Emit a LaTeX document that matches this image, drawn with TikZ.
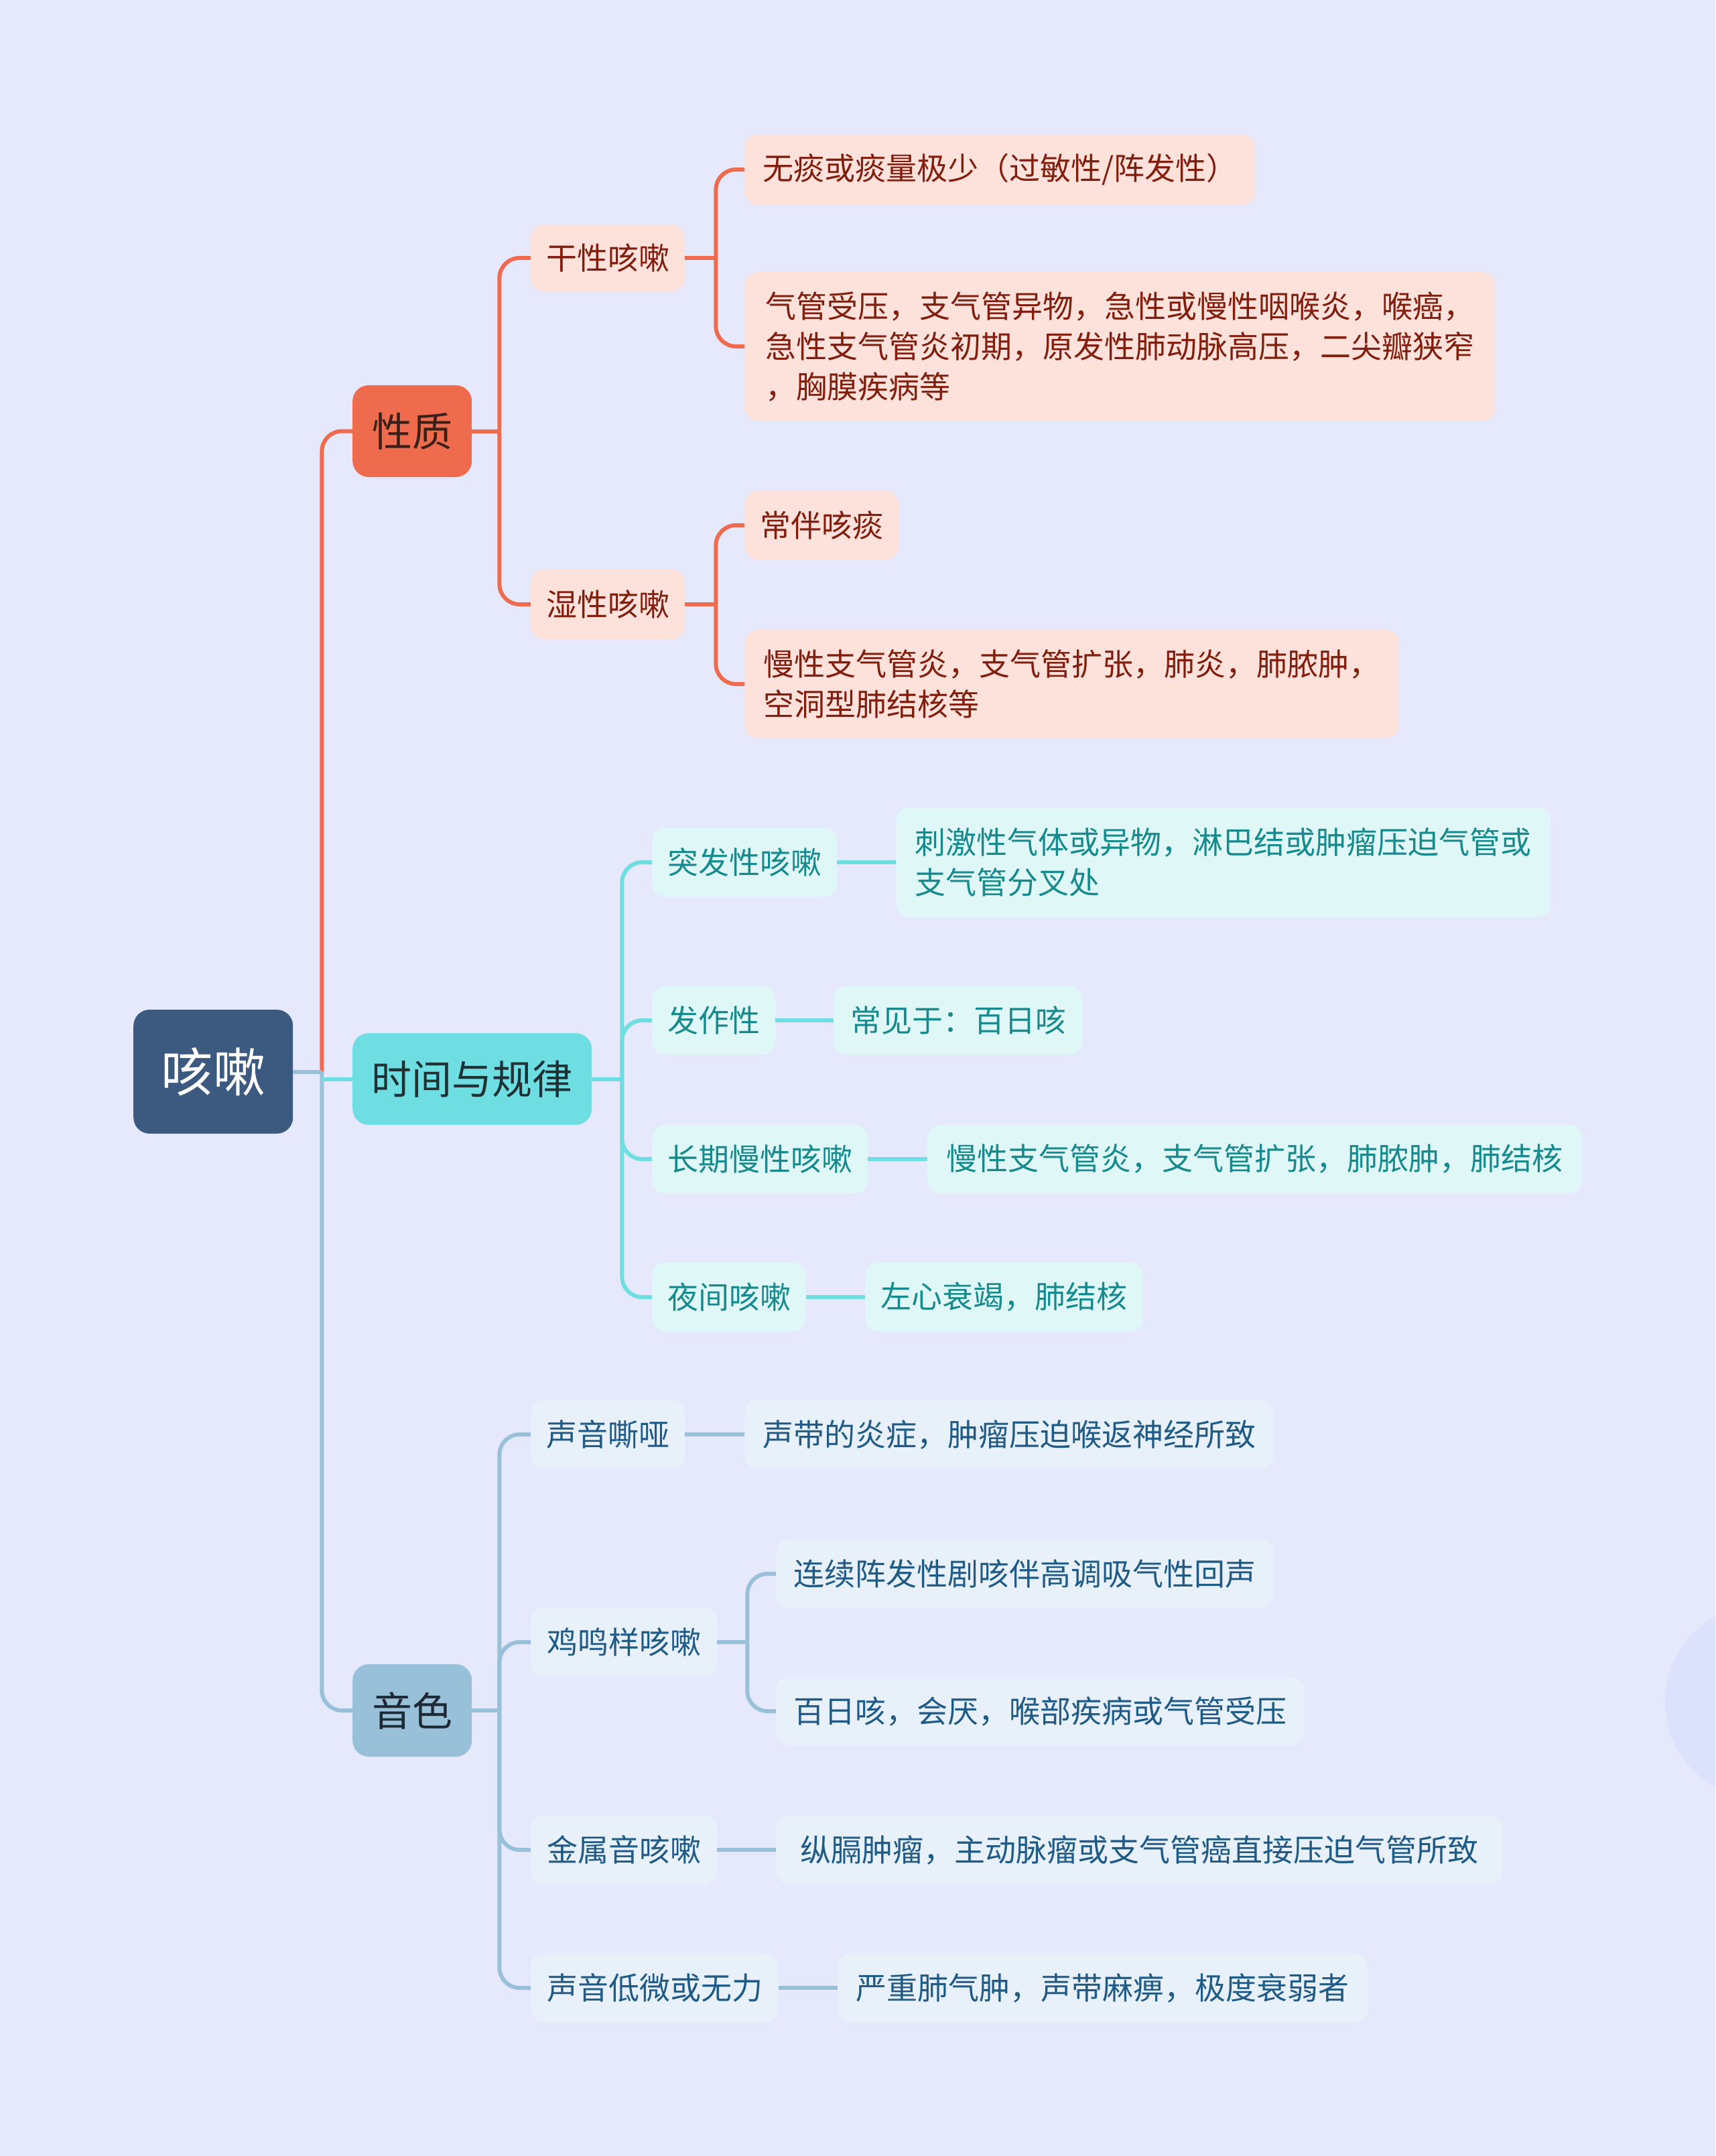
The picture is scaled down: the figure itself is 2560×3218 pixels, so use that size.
\documentclass[tikz,border=0pt]{standalone}
\usepackage{fontspec}
\newfontfamily\cjk{Noto Sans CJK SC}
\usetikzlibrary{calc}
\definecolor{bgc}{HTML}{E6E9FC}
\definecolor{circc}{HTML}{DCE1FC}
\definecolor{rootc}{HTML}{3C5A80}
\definecolor{oc}{HTML}{EE6C4D}
\definecolor{ofill}{HTML}{FDE2DC}
\definecolor{otext}{HTML}{821E0E}
\definecolor{otop}{HTML}{3A2019}
\definecolor{cc}{HTML}{6FDEE2}
\definecolor{cfill}{HTML}{E0F7F8}
\definecolor{ctext}{HTML}{168A8C}
\definecolor{ctop}{HTML}{1E3236}
\definecolor{bc}{HTML}{98C1D9}
\definecolor{bfill}{HTML}{E8F1FA}
\definecolor{btext}{HTML}{205B86}
\definecolor{btop}{HTML}{1D2A36}
\tikzset{
  nd/.style={anchor=west, rounded corners=20pt, inner xsep=23pt, inner ysep=0pt,
    align=left, minimum height=103pt, font=\cjk\fontsize{46}{60}\selectfont},
  top/.style={anchor=west, rounded corners=24pt, inner xsep=28pt, inner ysep=0pt,
    minimum height=137pt, font=\cjk\fontsize{60}{72}\selectfont},
  onode/.style={nd, fill=ofill, text=otext},
  cnode/.style={nd, fill=cfill, text=ctext},
  bnode/.style={nd, fill=bfill, text=btext},
  oline/.style={draw=oc, line width=6pt, rounded corners=30pt},
  cline/.style={draw=cc, line width=6pt, rounded corners=30pt},
  bline/.style={draw=bc, line width=6pt, rounded corners=30pt},
}
\begin{document}
\begin{tikzpicture}[x=1pt,y=-1pt]
\useasboundingbox (0,0) rectangle (2560,3218);
\clip (0,0) rectangle (2560,3218);
\fill[bgc] (0,0) rectangle (2560,3218);
\fill[circc] (2630,2540) circle (145pt);

% root
\node[anchor=west, fill=rootc, text=white, rounded corners=24pt, minimum width=238pt,
  minimum height=185pt, inner sep=0pt, font=\cjk\fontsize{78}{90}\selectfont] (root) at (199,1599.5) {咳嗽};

% level 1
\node[top, fill=oc, text=otop, minimum width=178pt] (xz) at (526,643.5) {性质};
\node[top, fill=cc, text=ctop, minimum width=357pt] (sj) at (526,1610.5) {时间与规律};
\node[top, fill=bc, text=btop, minimum width=178pt, minimum height=138pt] (ys) at (526,2553) {音色};

% 性质 branch
\node[onode, minimum width=230pt, minimum height=100pt] (gx) at (792,385) {干性咳嗽};
\node[onode, minimum width=230pt, minimum height=105pt] (sx) at (792,902) {湿性咳嗽};
\node[onode, minimum width=763pt, minimum height=105pt] (g1) at (1111,253) {无痰或痰量极少（过敏性/阵发性）};
\node[onode, minimum width=1121pt, minimum height=222pt] (g2) at (1111,517)
  {气管受压，支气管异物，急性或慢性咽喉炎，喉癌，\\急性支气管炎初期，原发性肺动脉高压，二尖瓣狭窄\\，胸膜疾病等};
\node[onode, minimum width=230pt] (s1) at (1111,784) {常伴咳痰};
\node[onode, minimum width=977pt, minimum height=162pt] (s2) at (1111,1021)
  {慢性支气管炎，支气管扩张，肺炎，肺脓肿，\\空洞型肺结核等};

% 时间与规律 branch
\node[cnode, minimum width=275pt] (t1) at (973,1287) {突发性咳嗽};
\node[cnode, minimum width=977pt, minimum height=164pt] (t1a) at (1337,1287)
  {刺激性气体或异物，淋巴结或肿瘤压迫气管或\\支气管分叉处};
\node[cnode, minimum width=183pt] (t2) at (973,1523) {发作性};
\node[cnode, minimum width=372pt] (t2a) at (1244,1523) {常见于：百日咳};
\node[cnode, minimum width=322pt] (t3) at (973,1730) {长期慢性咳嗽};
\node[cnode, minimum width=977pt] (t3a) at (1384,1730) {慢性支气管炎，支气管扩张，肺脓肿，肺结核};
\node[cnode, minimum width=230pt] (t4) at (973,1936) {夜间咳嗽};
\node[cnode, minimum width=415pt] (t4a) at (1291,1936) {左心衰竭，肺结核};

% 音色 branch
\node[bnode, minimum width=230pt] (y1) at (792,2141) {声音嘶哑};
\node[bnode, minimum width=790pt] (y1a) at (1111,2141) {声带的炎症，肿瘤压迫喉返神经所致};
\node[bnode, minimum width=278pt] (y2) at (792,2451) {鸡鸣样咳嗽};
\node[bnode, minimum width=743pt] (y2a) at (1158,2349) {连续阵发性剧咳伴高调吸气性回声};
\node[bnode, minimum width=788pt] (y2b) at (1158,2554) {百日咳，会厌，喉部疾病或气管受压};
\node[bnode, minimum width=278pt] (y3) at (792,2761) {金属音咳嗽};
\node[bnode, minimum width=1084pt] (y3a) at (1158,2761) {纵膈肿瘤，主动脉瘤或支气管癌直接压迫气管所致};
\node[bnode, minimum width=370pt] (y4) at (792,2967) {声音低微或无力};
\node[bnode, minimum width=791pt] (y4a) at (1250,2967) {严重肺气肿，声带麻痹，极度衰弱者};

% junction coordinates
\coordinate (rj) at ($(root.east)+(43,0)$);
\coordinate (xzj) at ($(xz.east)+(41,0)$);
\coordinate (sjj) at ($(sj.east)+(45,0)$);
\coordinate (ysj) at ($(ys.east)+(41,0)$);
\coordinate (gxj) at ($(gx.east)+(46,0)$);
\coordinate (sxj) at ($(sx.east)+(46,0)$);
\coordinate (y2j) at ($(y2.east)+(45,0)$);

% root connectors
\draw[oline] (rj) |- (xz.west);
\draw[bline] (rj) |- (ys.west);
\draw[cline] (rj |- sj.west) -- (sj.west);
\draw[bline] (root.east) -- (rj);

% 性质
\draw[oline] (xz.east) -- (xzj);
\draw[oline] (xzj) |- (gx.west);
\draw[oline] (xzj) |- (sx.west);
\draw[oline] (gx.east) -- (gxj);
\draw[oline] (gxj) |- (g1.west);
\draw[oline] (gxj) |- (g2.west);
\draw[oline] (sx.east) -- (sxj);
\draw[oline] (sxj) |- (s1.west);
\draw[oline] (sxj) |- (s2.west);

% 时间与规律
\draw[cline] (sj.east) -- (sjj);
\draw[cline] (sjj) |- (t1.west);
\draw[cline] (sjj) |- (t2.west);
\draw[cline] (sjj) |- (t3.west);
\draw[cline] (sjj) |- (t4.west);
\draw[cline] (t1.east) -- (t1a.west);
\draw[cline] (t2.east) -- (t2a.west);
\draw[cline] (t3.east) -- (t3a.west);
\draw[cline] (t4.east) -- (t4a.west);

% 音色
\draw[bline] (ys.east) -- (ysj);
\draw[bline] (ysj) |- (y1.west);
\draw[bline] (ysj) |- (y2.west);
\draw[bline] (ysj) |- (y3.west);
\draw[bline] (ysj) |- (y4.west);
\draw[bline] (y1.east) -- (y1a.west);
\draw[bline] (y2.east) -- (y2j);
\draw[bline] (y2j) |- (y2a.west);
\draw[bline] (y2j) |- (y2b.west);
\draw[bline] (y3.east) -- (y3a.west);
\draw[bline] (y4.east) -- (y4a.west);
\end{tikzpicture}
\end{document}
